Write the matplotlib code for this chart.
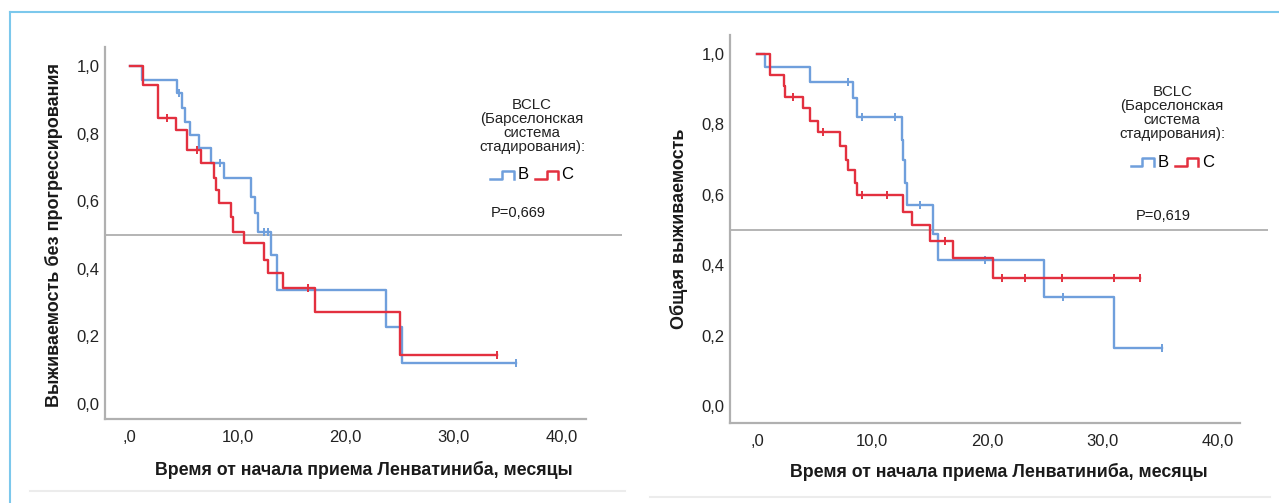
import numpy as np
import matplotlib
matplotlib.use("Agg")
import matplotlib.pyplot as plt
from matplotlib.lines import Line2D
from matplotlib.legend_handler import HandlerBase

plt.rcParams['font.family'] = ['Liberation Sans', 'DejaVu Sans']

# --- данные: выживаемость без прогрессирования (ВБП) ---
pfs_b_t = [0, 1.1, 4.4, 4.8, 5.1, 5.6, 6.4, 7.5, 8.7, 11.2, 11.6, 11.9, 13.1, 13.6, 23.7, 25.2, 35.8]
pfs_b_s = [1.0, 0.958, 0.92, 0.876, 0.834, 0.796, 0.757, 0.713, 0.669, 0.612, 0.565, 0.509, 0.44, 0.337, 0.228, 0.121, 0.121]
pfs_b_cens = [4.6, 8.4, 12.4, 12.8, 35.8]

pfs_c_t = [0, 1.2, 2.6, 4.3, 5.3, 6.6, 7.8, 8.0, 8.3, 9.4, 9.6, 10.6, 12.4, 12.8, 14.2, 17.2, 25.0, 34.0]
pfs_c_s = [1.0, 0.944, 0.846, 0.81, 0.75, 0.713, 0.67, 0.633, 0.595, 0.553, 0.509, 0.476, 0.426, 0.388, 0.343, 0.272, 0.145, 0.145]
pfs_c_cens = [3.4, 6.2, 16.5, 34.0]

# --- данные: общая выживаемость (ОВ) ---
os_b_t = [0, 0.7, 4.6, 8.3, 8.7, 12.6, 12.7, 12.9, 13.0, 15.3, 15.7, 24.9, 31.0, 35.2]
os_b_s = [1.0, 0.963, 0.92, 0.875, 0.82, 0.756, 0.70, 0.634, 0.571, 0.49, 0.415, 0.31, 0.165, 0.165]
os_b_cens = [7.9, 9.1, 12.0, 14.2, 19.8, 26.6, 35.2]

os_c_t = [0, 1.1, 2.3, 2.4, 4.0, 4.6, 5.3, 7.2, 7.7, 7.9, 8.5, 8.7, 12.7, 13.5, 15.0, 17.0, 20.5, 33.3]
os_c_s = [1.0, 0.94, 0.91, 0.878, 0.847, 0.81, 0.778, 0.74, 0.70, 0.67, 0.634, 0.60, 0.55, 0.514, 0.47, 0.42, 0.364, 0.364]
os_c_cens = [3.1, 5.7, 9.1, 11.3, 16.3, 21.3, 23.3, 26.5, 31.0, 33.3]

x_ticks = [0, 10, 20, 30, 40]
x_labels = [',0', '10,0', '20,0', '30,0', '40,0']
y_ticks = [0.0, 0.2, 0.4, 0.6, 0.8, 1.0]
y_labels = ['0,0', '0,2', '0,4', '0,6', '0,8', '1,0']

p_values = ['P=0,669', 'P=0,619']
y_titles = ['Выживаемость без прогрессирования', 'Общая выживаемость']
x_title = 'Время от начала приема Ленватиниба, месяцы'
legend_title = 'BCLC\n(Барселонская\nсистема\nстадирования):'

BLUE = '#6f9fdc'
RED = '#e3303f'
GRAY = '#b4b4b4'


class StepHandler(HandlerBase):
    # значок легенды в виде ступеньки, как в SPSS
    def create_artists(self, legend, orig, xd, yd, w, h, fontsize, trans):
        xs = [xd, xd + w * 0.5, xd + w * 0.5, xd + w, xd + w]
        ys = [yd + h * 0.1, yd + h * 0.1, yd + h * 0.9, yd + h * 0.9, yd + h * 0.1]
        ln = Line2D(xs, ys, color=orig.get_color(), lw=1.8, transform=trans)
        return [ln]


def km(ax, t, s, cens, color):
    t = np.array(t)
    s = np.array(s)
    line, = ax.step(t, s, where='post', color=color, lw=1.7)
    idx = np.searchsorted(t, cens, side='right') - 1
    ax.plot(cens, s[idx], ls='none', marker='|', ms=6, mew=1.4, color=color)
    return line


fig = plt.figure(figsize=(12.79, 5.03), dpi=100)
W, H = 1279, 503

# [left, right, top, bottom] в пикселях, пределы осей
panels = [
    dict(box=(105, 622, 47, 419), xlim=(-2.3, 45.6), ylim=(-0.044, 1.056), xend=42.3,
         data=(pfs_b_t, pfs_b_s, pfs_b_cens, pfs_c_t, pfs_c_s, pfs_c_cens),
         leg=(0.826, 0.885), ptxt=(0.80, 0.554), xl=(0.5, -0.112), yl=(-0.081, 0.495)),
    dict(box=(730, 1268, 35, 423), xlim=(-2.35, 44.4), ylim=(-0.048, 1.054), xend=42.0,
         data=(os_b_t, os_b_s, os_b_cens, os_c_t, os_c_s, os_c_cens),
         leg=(0.822, 0.892), ptxt=(0.805, 0.534), xl=(0.5, -0.104), yl=(-0.078, 0.50)),
]

for i, p in enumerate(panels):
    l, r, t, b = p['box']
    ax = fig.add_axes([l / W, 1 - b / H, (r - l) / W, (b - t) / H])
    bt, bs, bc, ct, cs, cc = p['data']
    ax.axhline(0.5, color=GRAY, lw=1.4, zorder=1)
    hb = km(ax, bt, bs, bc, BLUE)
    hc = km(ax, ct, cs, cc, RED)

    ax.set_xlim(p['xlim'])
    ax.set_ylim(p['ylim'])
    ax.set_xticks(x_ticks)
    ax.set_xticklabels(x_labels)
    ax.set_yticks(y_ticks)
    ax.set_yticklabels(y_labels)
    ax.tick_params(length=0, labelsize=12, colors='#222222')
    ax.tick_params(axis='x', pad=8)
    ax.tick_params(axis='y', pad=4)
    for sp in ['top', 'right']:
        ax.spines[sp].set_visible(False)
    for sp in ['left', 'bottom']:
        ax.spines[sp].set_color('#b0b0b0')
        ax.spines[sp].set_linewidth(1.6)
    ax.spines['bottom'].set_bounds(p['xlim'][0], p['xend'])

    ax.set_ylabel(y_titles[i], fontsize=13, fontweight='bold', color='#1a1a1a')
    ax.yaxis.set_label_coords(*p['yl'])
    ax.set_xlabel(x_title, fontsize=12.8, fontweight='bold', color='#1a1a1a',
                  family=['Liberation Sans Narrow', 'Liberation Sans'])
    ax.xaxis.set_label_coords(*p['xl'])

    leg = ax.legend([hb, hc], ['B', 'C'], handler_map={Line2D: StepHandler()},
                    title=legend_title, ncol=2, frameon=False, loc='upper center',
                    bbox_to_anchor=p['leg'], fontsize=12, title_fontsize=10.8,
                    handlelength=1.4, handleheight=0.6, handletextpad=0.2,
                    columnspacing=0.4, borderpad=0, labelspacing=0.8)
    leg.get_title().set_multialignment('center')
    leg.get_title().set_color('#222222')
    leg.get_title().set_linespacing(1.0)
    ax.text(p['ptxt'][0], p['ptxt'][1], p_values[i], transform=ax.transAxes,
            ha='center', va='center', fontsize=10.5, color='#1a1a1a')

# рамка страницы
fig.add_artist(Line2D([10 / W, 10 / W], [0, 1 - 12 / H], color='#7cc8ec', lw=1.5))
fig.add_artist(Line2D([10 / W, 1], [1 - 12 / H, 1 - 12 / H], color='#7cc8ec', lw=1.5))
fig.add_artist(Line2D([30 / W, 625 / W], [1 - 491 / H, 1 - 491 / H], color='#ececec', lw=1.5))
fig.add_artist(Line2D([650 / W, 1270 / W], [1 - 497 / H, 1 - 497 / H], color='#ececec', lw=1.5))

fig.savefig('out.png', dpi=100, facecolor='white')
